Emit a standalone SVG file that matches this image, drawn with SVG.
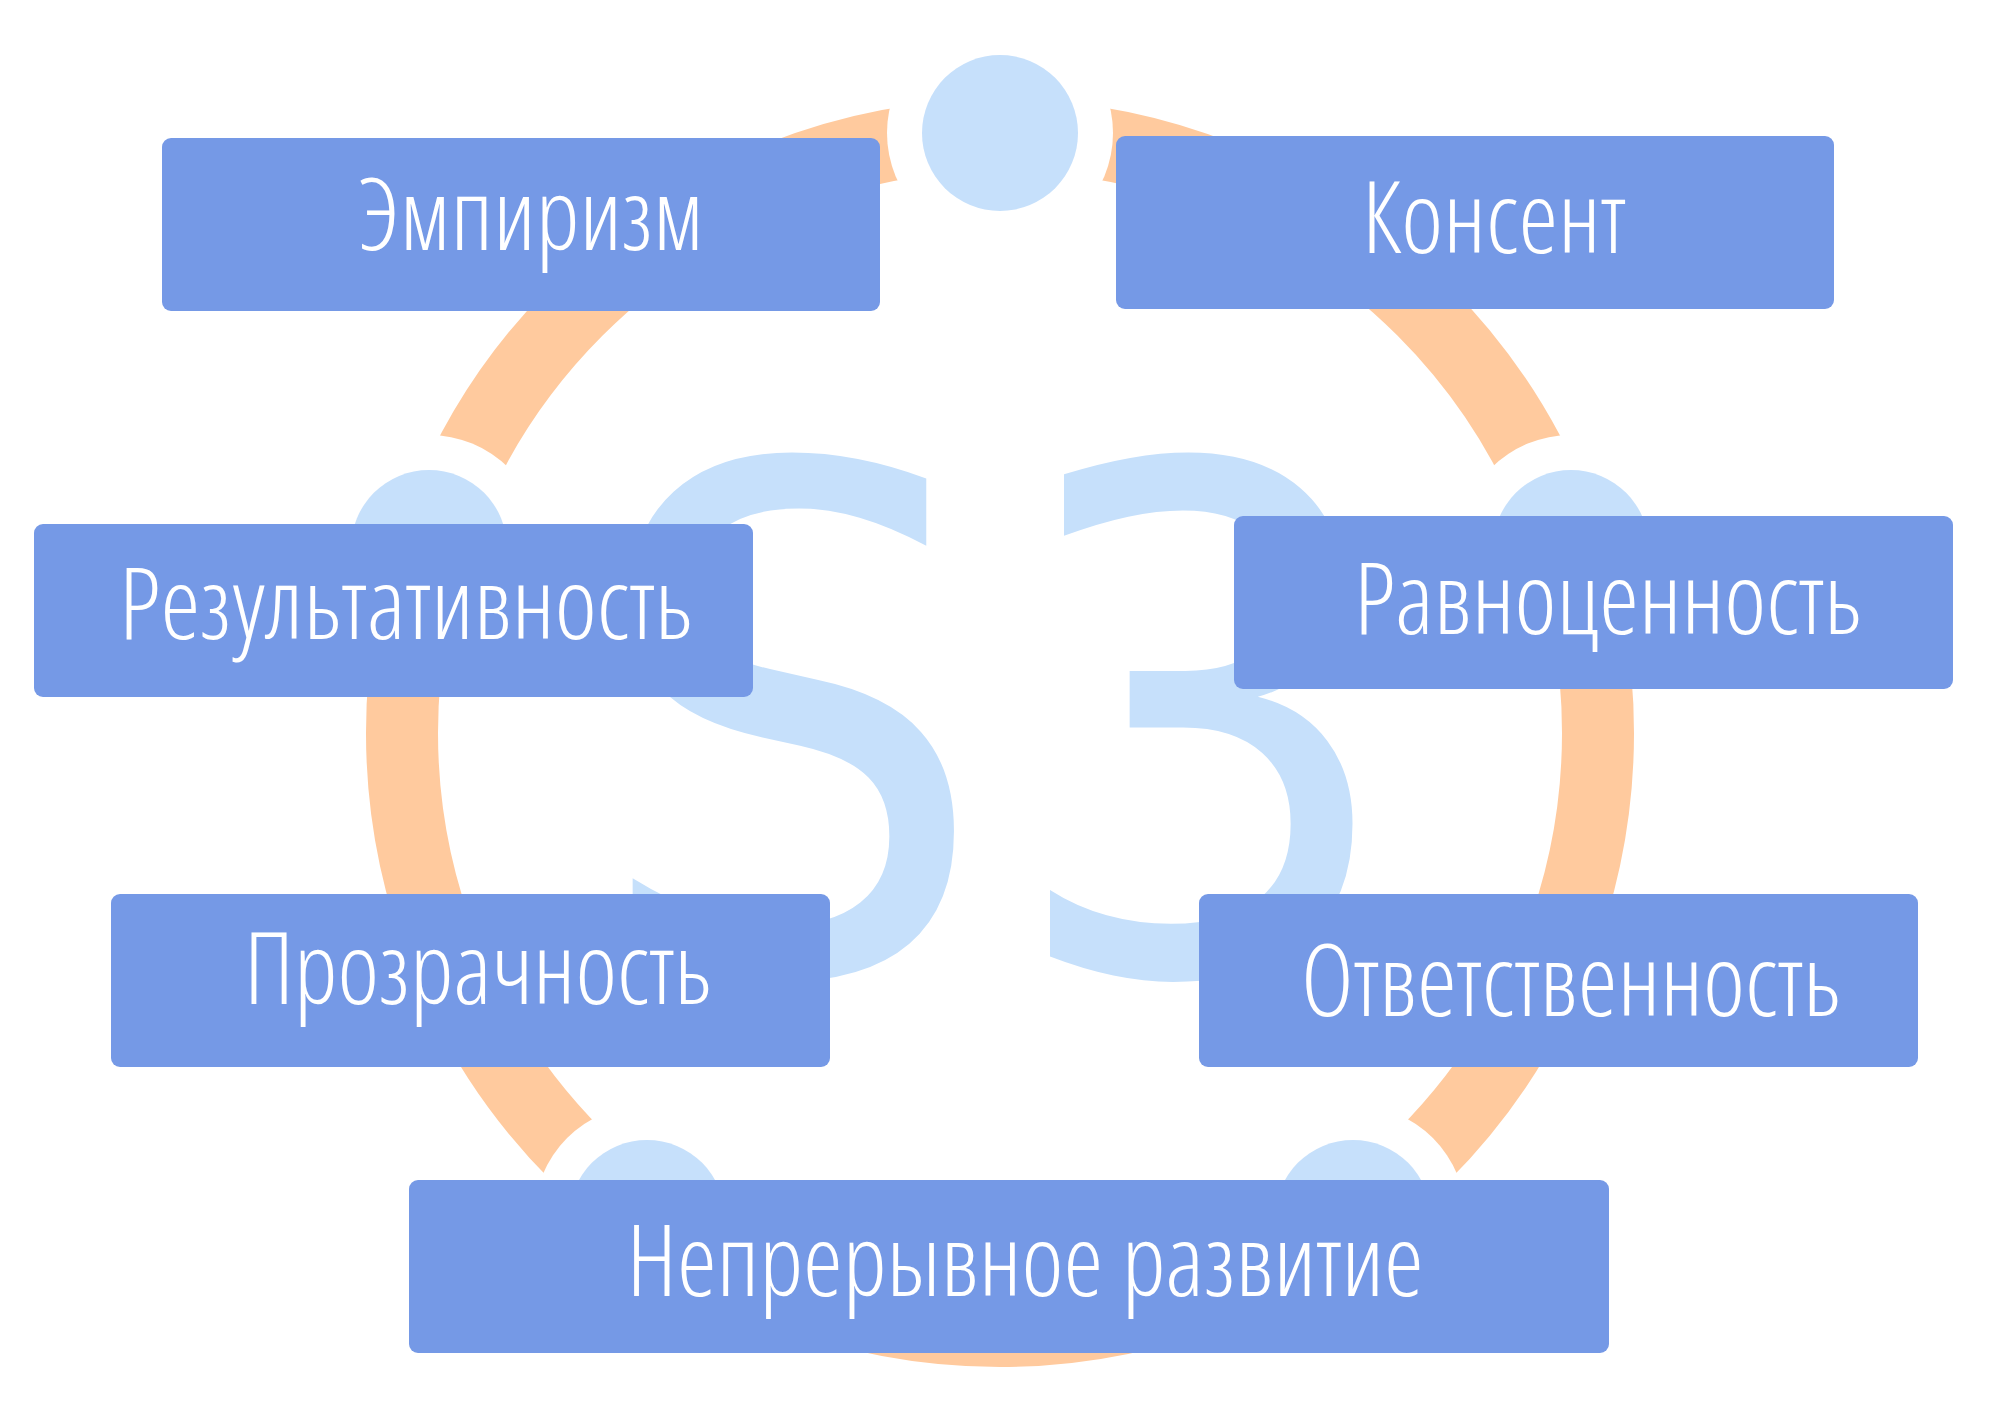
<svg xmlns="http://www.w3.org/2000/svg" width="2000" height="1420" viewBox="0 0 2000 1420">
<style>
.box{fill:#7599E6}
.lbl{fill:#FFFFFF;font-family:"Open Sans","Liberation Sans",sans-serif;font-stretch:75%;font-weight:350;font-size:100px;text-anchor:middle}
.dot{fill:#C6E0FB}
.gap{fill:#FFFFFF}
.big{fill:#C6E0FB;font-family:"DejaVu Sans Condensed","DejaVu Sans",sans-serif;font-stretch:semi-condensed;font-weight:400;font-size:700px;text-anchor:middle}
</style>
<rect width="2000" height="1420" fill="#FFFFFF"/>
<g id="connectors">
<circle cx="1000" cy="733" r="598" fill="none" stroke="#FFCA9E" stroke-width="72"/>
</g>
<g id="cycle">
<circle class="gap" cx="1000" cy="133" r="113"/>
<circle class="gap" cx="1571" cy="548" r="113"/>
<circle class="gap" cx="1353" cy="1218" r="113"/>
<circle class="gap" cx="647" cy="1218" r="113"/>
<circle class="gap" cx="429" cy="548" r="113"/>
<circle class="dot" cx="1000" cy="133" r="78"/>
<circle class="dot" cx="1571" cy="548" r="78"/>
<circle class="dot" cx="1353" cy="1218" r="78"/>
<circle class="dot" cx="647" cy="1218" r="78"/>
<circle class="dot" cx="429" cy="548" r="78"/>
</g>
<g id="s3">
<text class="big" x="996" y="972">S<tspan dx="13">3</tspan></text>
</g>
<g id="node-empirizm">
<rect class="box" x="162" y="138" width="718" height="173" rx="9"/>
<text class="lbl" x="531" y="250" textLength="346" lengthAdjust="spacingAndGlyphs">Эмпиризм</text>
</g>
<g id="node-konsent">
<rect class="box" x="1116" y="136" width="718" height="173" rx="9"/>
<text class="lbl" x="1494" y="253" textLength="264" lengthAdjust="spacingAndGlyphs">Консент</text>
</g>
<g id="node-rezultativnost">
<rect class="box" x="34" y="524" width="719" height="173" rx="9"/>
<text class="lbl" x="406" y="639" textLength="574" lengthAdjust="spacingAndGlyphs">Результативность</text>
</g>
<g id="node-ravnotsennost">
<rect class="box" x="1234" y="516" width="719" height="173" rx="9"/>
<text class="lbl" x="1608" y="634" textLength="508" lengthAdjust="spacingAndGlyphs">Равноценность</text>
</g>
<g id="node-prozrachnost">
<rect class="box" x="111" y="894" width="719" height="173" rx="9"/>
<text class="lbl" x="478" y="1004" textLength="468" lengthAdjust="spacingAndGlyphs">Прозрачность</text>
</g>
<g id="node-otvetstvennost">
<rect class="box" x="1199" y="894" width="719" height="173" rx="9"/>
<text class="lbl" x="1571" y="1016" textLength="540" lengthAdjust="spacingAndGlyphs">Ответственность</text>
</g>
<g id="node-razvitie">
<rect class="box" x="409" y="1180" width="1200" height="173" rx="9"/>
<text class="lbl" x="1025" y="1296" textLength="797" lengthAdjust="spacingAndGlyphs">Непрерывное развитие</text>
</g>
</svg>
